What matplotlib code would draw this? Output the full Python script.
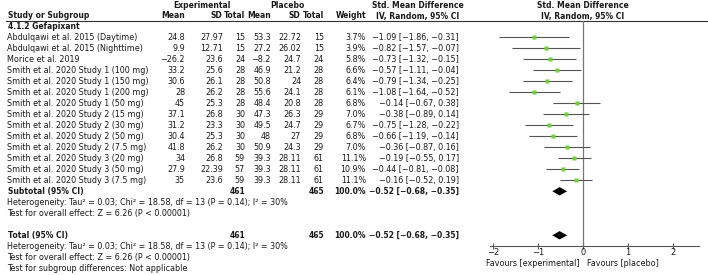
import matplotlib
matplotlib.use("Agg")
import matplotlib.pyplot as plt

plt.rcParams['font.family'] = ['DejaVu Sans']

studies = [
    "Abdulqawi et al. 2015 (Daytime)",
    "Abdulqawi et al. 2015 (Nighttime)",
    "Morice et al. 2019",
    "Smith et al. 2020 Study 1 (100 mg)",
    "Smith et al. 2020 Study 1 (150 mg)",
    "Smith et al. 2020 Study 1 (200 mg)",
    "Smith et al. 2020 Study 1 (50 mg)",
    "Smith et al. 2020 Study 2 (15 mg)",
    "Smith et al. 2020 Study 2 (30 mg)",
    "Smith et al. 2020 Study 2 (50 mg)",
    "Smith et al. 2020 Study 2 (7.5 mg)",
    "Smith et al. 2020 Study 3 (20 mg)",
    "Smith et al. 2020 Study 3 (50 mg)",
    "Smith et al. 2020 Study 3 (7.5 mg)",
]
exp_mean = [24.8, 9.9, -26.2, 33.2, 30.6, 28, 45, 37.1, 31.2, 30.4, 41.8, 34, 27.9, 35]
exp_sd = [27.97, 12.71, 23.6, 25.6, 26.1, 26.2, 25.3, 26.8, 23.3, 25.3, 26.2, 26.8, 22.39, 23.6]
exp_n = [15, 15, 24, 28, 28, 28, 28, 30, 30, 30, 30, 59, 57, 59]
pl_mean = [53.3, 27.2, -8.2, 46.9, 50.8, 55.6, 48.4, 47.3, 49.5, 48, 50.9, 39.3, 39.3, 39.3]
pl_sd = [22.72, 26.02, 24.7, 21.2, 24, 24.1, 20.8, 26.3, 24.7, 27, 24.3, 28.11, 28.11, 28.11]
pl_n = [15, 15, 24, 28, 28, 28, 28, 29, 29, 29, 29, 61, 61, 61]
weight = [3.7, 3.9, 5.8, 6.6, 6.4, 6.1, 6.8, 7.0, 6.7, 6.8, 7.0, 11.1, 10.9, 11.1]
smd = [-1.09, -0.82, -0.73, -0.57, -0.79, -1.08, -0.14, -0.38, -0.75, -0.66, -0.36, -0.19, -0.44, -0.16]
ci_lo = [-1.86, -1.57, -1.32, -1.11, -1.34, -1.64, -0.67, -0.89, -1.28, -1.19, -0.87, -0.55, -0.81, -0.52]
ci_hi = [-0.31, -0.07, -0.15, -0.04, -0.25, -0.52, 0.38, 0.14, -0.22, -0.14, 0.16, 0.17, -0.08, 0.19]
pooled = -0.52
pooled_lo = -0.68
pooled_hi = -0.35
total_exp = 461
total_pl = 465
total_weight = "100.0%"
x_ticks = [-2, -1, 0, 1, 2]

MINUS = "\u2212"
TXT = "#1a1a1a"
FS = 5.75
FSB = 5.5


def num(v):
    return f"{v:g}".replace("-", MINUS)


def ci(m, l, h):
    return f"{m:.2f} [{l:.2f}, {h:.2f}]".replace("-", MINUS)


W, H = 708, 275
fig = plt.figure(figsize=(W / 100, H / 100), dpi=100)

# row mapping: row r at pixel y = Y0 + r * DY
Y0, DY = 37.3, 11.0


def rows_at(py):
    return (py - Y0) / DY


# text axes covering the whole figure (x in pixels, y in rows)
tx = fig.add_axes([0, 0, 1, 1])
tx.set_xlim(0, W)
tx.set_ylim(rows_at(H), rows_at(0))
tx.axis("off")


def t(x, r, s, ha="left", bold=False, **kw):
    tx.text(x, r, s, ha=ha, va="center", fontsize=FSB if bold else FS, color=TXT,
            fontweight="bold" if bold else "normal", **kw)


# column right edges
c_em, c_esd, c_en = 185, 223, 245
c_pm, c_psd, c_pn = 271, 301, 324
c_w, c_ci = 366, 459
ci_center = 418

# headers
t(202, rows_at(5), "Experimental", ha="center", bold=True)
t(287, rows_at(5), "Placebo", ha="center", bold=True)
t(ci_center, rows_at(5), "Std. Mean Difference", ha="center", bold=True)
t(583, rows_at(5), "Std. Mean Difference", ha="center", bold=True)
hr = rows_at(16)
t(8, hr, "Study or Subgroup", bold=True)
for x, s in [(c_em, "Mean"), (c_esd - 1, "SD"), (c_en, "Total"), (c_pm, "Mean"),
             (c_psd - 1, "SD"), (c_pn, "Total"), (c_w, "Weight")]:
    t(x, hr, s, ha="right", bold=True)
t(ci_center, hr, "IV, Random, 95% CI", ha="center", bold=True)
t(583, hr, "IV, Random, 95% CI", ha="center", bold=True)
tx.plot([6, W], [rows_at(21), rows_at(21)], color="#333333", lw=0.8)

t(8, rows_at(26.5), "4.1.2 Gefapixant", bold=True)

for i, name in enumerate(studies):
    t(7, i, name)
    t(c_em, i, num(exp_mean[i]), ha="right")
    t(c_esd, i, num(exp_sd[i]), ha="right")
    t(c_en, i, num(exp_n[i]), ha="right")
    t(c_pm, i, num(pl_mean[i]), ha="right")
    t(c_psd, i, num(pl_sd[i]), ha="right")
    t(c_pn, i, num(pl_n[i]), ha="right")
    t(c_w, i, f"{weight[i]:.1f}%", ha="right")
    t(c_ci, i, ci(smd[i], ci_lo[i], ci_hi[i]), ha="right")

n = len(studies)
for r, lab in [(n, "Subtotal (95% CI)"), (n + 4, "Total (95% CI)")]:
    t(8, r, lab, bold=True)
    t(c_en, r, str(total_exp), ha="right", bold=True)
    t(c_pn, r, str(total_pl), ha="right", bold=True)
    t(c_w, r, total_weight, ha="right", bold=True)
    t(c_ci, r, ci(pooled, pooled_lo, pooled_hi), ha="right", bold=True)

het = "Heterogeneity: Tau\u00b2 = 0.03; Chi\u00b2 = 18.58, df = 13 (P = 0.14); I\u00b2 = 30%"
t(7, n + 1, het)
t(7, n + 2, "Test for overall effect: Z = 6.26 (P < 0.00001)")
t(7, n + 5, het)
t(7, n + 6, "Test for overall effect: Z = 6.26 (P < 0.00001)")
t(7, n + 7, "Test for subgroup differences: Not applicable")

# forest axes
ax_l, ax_r = 490, 699
ax_t, ax_b = 21, 246
ax = fig.add_axes([ax_l / W, (H - ax_b) / H, (ax_r - ax_l) / W, (ax_b - ax_t) / H])
ppu = 45.1
x0 = 583
ax.set_xlim((ax_l - x0) / ppu, (ax_r - x0) / ppu)
ax.set_ylim(rows_at(ax_b), rows_at(ax_t))
ax.patch.set_alpha(0)
for s in ["left", "right", "top"]:
    ax.spines[s].set_visible(False)
ax.spines["bottom"].set_color("#555555")
ax.spines["bottom"].set_linewidth(0.8)
ax.set_yticks([])
ax.set_xticks(x_ticks)
ax.tick_params(axis="x", direction="inout", length=4, width=0.8, color="#555555",
               labelsize=FS + 0.3, labelcolor=TXT, pad=-0.5)
ax.axvline(0, color="#777777", lw=0.9)

for i in range(n):
    ax.plot([ci_lo[i], ci_hi[i]], [i, i], color="#555555", lw=0.8, solid_capstyle="butt")
    ax.plot(smd[i], i, marker="s", color="#6fd13a", ms=2.3 + weight[i] * 0.02,
            mec="none", zorder=3)

for r in [n, n + 4]:
    hh = 0.38
    ax.fill([pooled_lo, pooled, pooled_hi, pooled], [r, r - hh, r, r + hh],
            color="black", lw=0)

tx.text(580, rows_at(263), "Favours [experimental]", ha="right", va="center",
        fontsize=FS, color=TXT)
tx.text(587, rows_at(263), "Favours [placebo]", ha="left", va="center",
        fontsize=FS, color=TXT)

fig.savefig("out.png", dpi=100)
